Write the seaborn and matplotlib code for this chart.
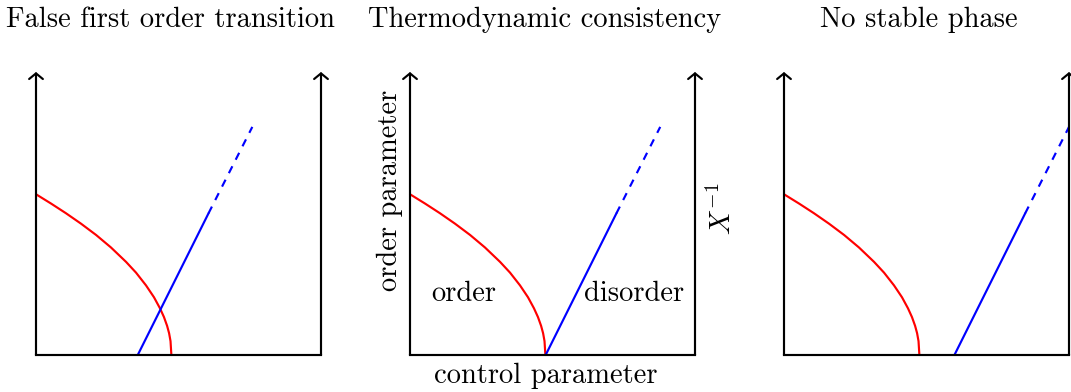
import matplotlib
matplotlib.use("Agg")
import matplotlib.pyplot as plt
import seaborn as sns
import numpy as np

sns.set_style("white")
plt.rcParams["font.family"] = ["cmr10", "DejaVu Serif"]
plt.rcParams["mathtext.fontset"] = "cm"
plt.rcParams["axes.unicode_minus"] = False
plt.rcParams["text.color"] = "black"

# Panel titles
titles = ["False first order transition", "Thermodynamic consistency", "No stable phase"]

# Order parameter (red), in units of the panel box (0..1 on both axes)
order_x = [0.0, 0.053, 0.105, 0.158, 0.211, 0.263, 0.316, 0.351, 0.386,
           0.414, 0.435, 0.449, 0.460, 0.467, 0.472, 0.475]
order_y = [0.568, 0.535, 0.501, 0.464, 0.424, 0.380, 0.329, 0.291, 0.246,
           0.204, 0.165, 0.134, 0.103, 0.077, 0.049, 0.0]

# Inverse susceptibility (blue): where it leaves the axis in each panel
inv_chi_start = [0.357, 0.476, 0.598]
# offsets along the line: solid part, then dashed continuation
inv_chi_solid_dx = [0.0, 0.248]
inv_chi_solid_dy = [0.0, 0.500]
inv_chi_dash_dx = [0.248, 0.402]
inv_chi_dash_dy = [0.500, 0.806]

W, H = 1071, 392
fig = plt.figure(figsize=(W / 100, H / 100), dpi=100)
panel_left = [36, 410, 784]
FS = 20.5
LW = 1.55

for i, left in enumerate(panel_left):
    ax = fig.add_axes([left / W, (H - 355) / H, 285 / W, 283 / H])
    ax.set_xlim(0, 1)
    ax.set_ylim(0, 1)
    for s in ["top", "left", "right"]:
        ax.spines[s].set_visible(False)
    ax.spines["bottom"].set_linewidth(LW)
    ax.spines["bottom"].set_color("black")
    ax.set_xticks([])
    ax.set_yticks([])
    ax.patch.set_alpha(0)

    # vertical axes with open arrowheads on both sides
    for xa in (0.0, 1.0):
        ax.annotate("", xy=(xa, 1.0), xytext=(xa, 0.0), xycoords="axes fraction",
                    textcoords="axes fraction", annotation_clip=False,
                    arrowprops=dict(arrowstyle="->,head_length=0.45,head_width=0.55",
                                    lw=LW, color="black", shrinkA=0, shrinkB=0,
                                    mutation_scale=9))

    sns.lineplot(x=order_x, y=order_y, color="red", lw=LW, ax=ax,
                 sort=False, estimator=None, clip_on=False)
    x0 = inv_chi_start[i]
    sns.lineplot(x=[x0 + d for d in inv_chi_solid_dx], y=inv_chi_solid_dy,
                 color="blue", lw=LW, ax=ax, sort=False, estimator=None, clip_on=False)
    sns.lineplot(x=[x0 + d for d in inv_chi_dash_dx], y=inv_chi_dash_dy,
                 color="blue", lw=LW, ax=ax, sort=False, estimator=None,
                 linestyle=(0, (3.6, 3.4)), clip_on=False)

    ax.text(0.473, 1.160, titles[i], transform=ax.transAxes, ha="center",
            va="baseline", fontsize=FS, color="black")

    if i == 1:
        ax.text(-0.070, 0.583, "order parameter", transform=ax.transAxes,
                rotation=90, ha="center", va="center", fontsize=FS, color="black")
        ax.text(0.4765, -0.100, "control parameter", transform=ax.transAxes,
                ha="center", va="baseline", fontsize=FS, color="black")
        ax.text(0.189, 0.192, "order", transform=ax.transAxes,
                ha="center", va="baseline", fontsize=FS, color="black")
        ax.text(0.785, 0.192, "disorder", transform=ax.transAxes,
                ha="center", va="baseline", fontsize=FS, color="black")
        ax.text(1.095, 0.519, r"$X^{-1}$", transform=ax.transAxes,
                rotation=90, ha="center", va="center", fontsize=FS, color="black")

fig.savefig("out.png", dpi=100)
